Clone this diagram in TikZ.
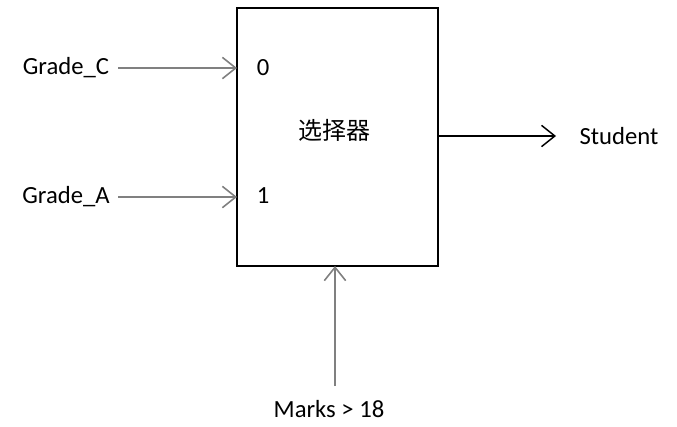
\documentclass[tikz,border=0pt]{standalone}
\usepackage{fontspec}
\setmainfont{Carlito}
\newfontfamily\cjk{Noto Sans CJK SC}
\usetikzlibrary{arrows.meta}
\begin{document}
\begin{tikzpicture}[x=0.75pt,y=-0.75pt,
  lbl/.style={inner sep=0pt,font=\fontsize{18.5}{22}\selectfont},
  grayarrow/.style={draw={rgb,255:red,128;green,128;blue,128},line width=2pt,-{Straight Barb[length=10pt,width=16pt,line width=1.2pt]}},
  blackarrow/.style={draw=black,line width=1.1pt,-{Straight Barb[length=10pt,width=16pt,line width=1.1pt]}},
  boxstyle/.style={draw=black,line width=1.3pt,minimum width=201*0.75pt,minimum height=258*0.75pt,inner sep=0pt}]
\useasboundingbox (0,0) rectangle (677,426);
\node[boxstyle] (mux) at (337.5,137) {};
\node[lbl] (gc) at (66,68) {Grade\_C};
\node[lbl] (ga) at (66,197) {Grade\_A};
\node[lbl] (z) at (263,68) {0};
\node[lbl] (o) at (263,196) {1};
\node[lbl,font=\cjk\fontsize{18}{22}\selectfont] (sel) at (334,130) {选择器};
\node[lbl] (st) at (619,136) {Student};
\node[lbl] (mk) at (329,409) {Marks > 18};
\coordinate (gcS) at (118,68);
\coordinate (gaS) at (118,197);
\coordinate (gcE) at (237,68);
\coordinate (gaE) at (237,197);
\coordinate (stS) at (438,136);
\coordinate (stE) at (556,136);
\coordinate (mkS) at (335,386);
\coordinate (mkE) at (335,266);
\draw[grayarrow] (gcS) -- (gcE);
\draw[grayarrow] (gaS) -- (gaE);
\draw[blackarrow] (stS) -- (stE);
\draw[grayarrow] (mkS) -- (mkE);
\end{tikzpicture}
\end{document}
